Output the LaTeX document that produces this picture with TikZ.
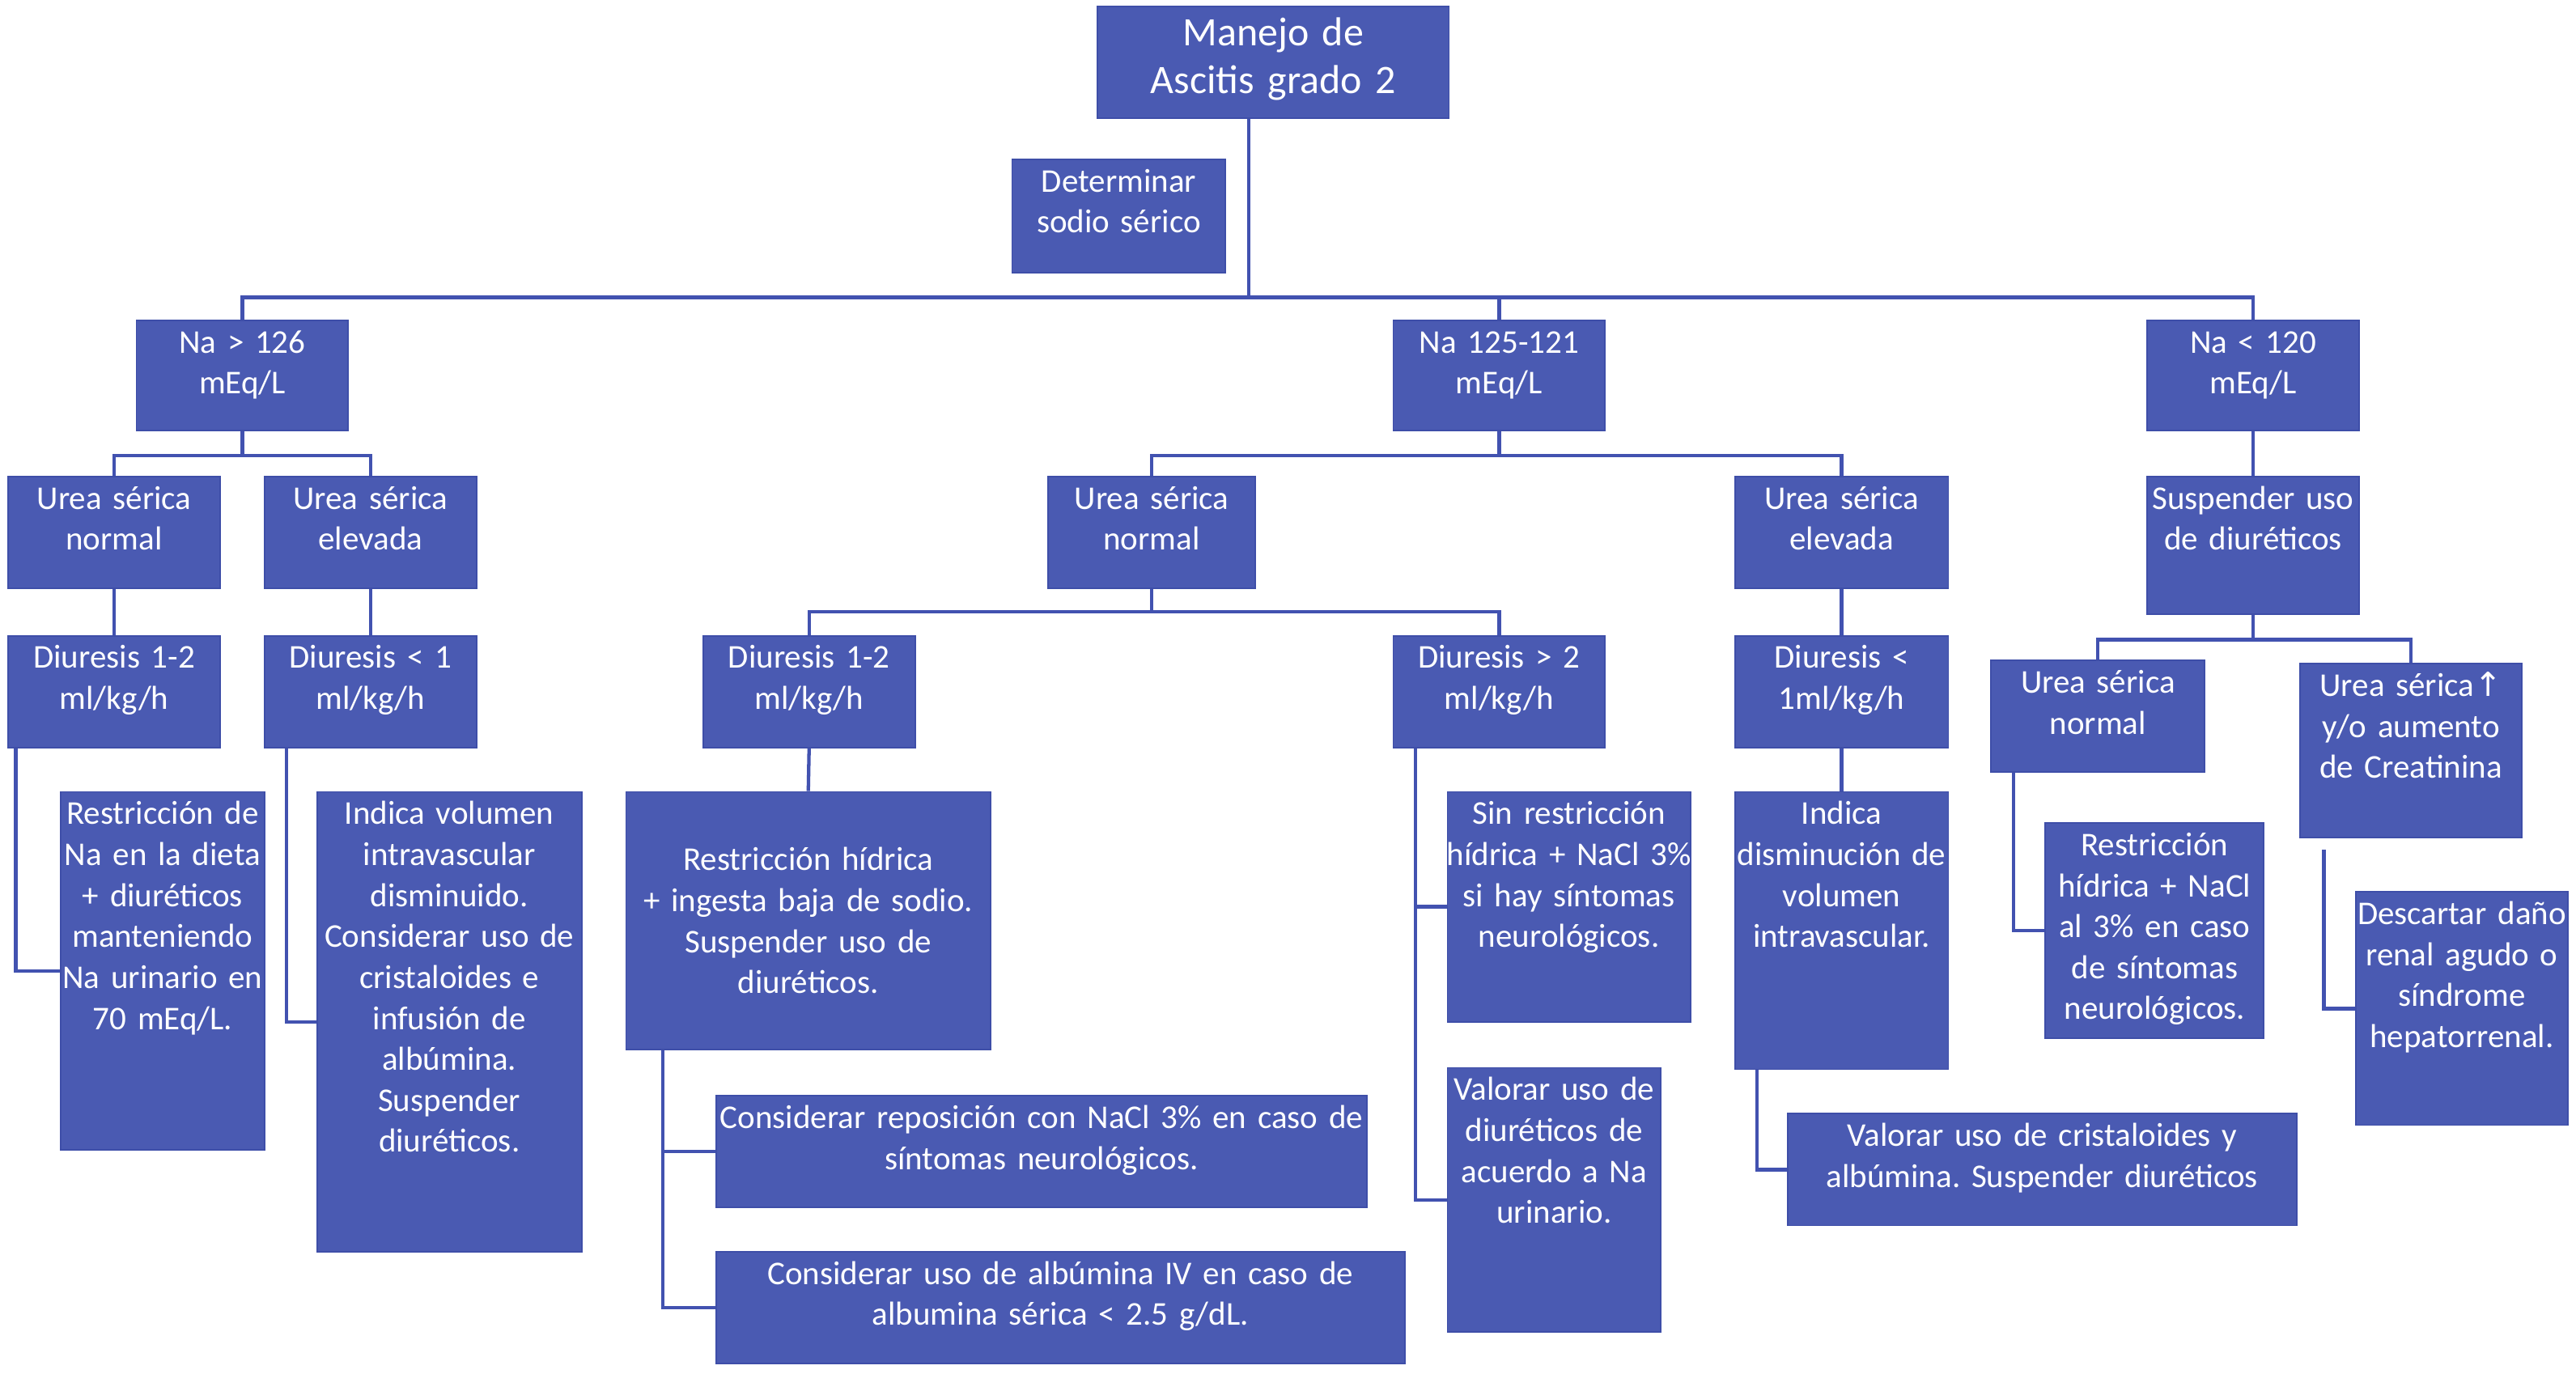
\documentclass[tikz,border=0pt]{standalone}
\usepackage{fontspec}
\setmainfont{Carlito}
\newfontfamily\symfont{DejaVu Sans}
\usetikzlibrary{fit}
\frenchspacing
\definecolor{boxfill}{RGB}{74,90,178}
\definecolor{boxedge}{RGB}{62,78,168}
\definecolor{linec}{RGB}{66,82,176}
\newcommand\bfs{\fontsize{11.5}{14.2}\selectfont}
\newcommand\tfs{\fontsize{14}{16.5}\selectfont}
% box: name, x1, y1, x2, y2, text (top aligned)
\newcommand\bx[6]{%
  \node[box, fit={(#2,#3) (#4,#5)}] (#1) {};
  \pgfmathsetmacro\tw{(#4-#2)*0.02+1}%
  \node[txt, text width=\tw cm, anchor=north] (#1-t) at ([yshift=-0.05cm]#1.north) {\strut #6};
}
% box with vertically centred text
\newcommand\bxc[6]{%
  \node[box, fit={(#2,#3) (#4,#5)}] (#1) {};
  \pgfmathsetmacro\tw{(#4-#2)*0.02+1}%
  \node[txt, text width=\tw cm, anchor=center] (#1-t) at (#1.center) {#6};
}
\begin{document}
\begin{tikzpicture}[x=0.02cm,y=-0.02cm,
  box/.style={fill=boxfill, draw=boxedge, line width=0.5pt, inner sep=0pt},
  txt/.style={text=white, align=center, inner sep=0pt, font=\bfs},
  conn/.style={draw=linec, line width=1.2pt}]
\useasboundingbox (0,0) rectangle (1568,836);

% title
\node[box, fit={(668,4) (882,72)}] (title) {};
\node[txt, font=\tfs, text width=5.3cm, anchor=north] (title-t) at ([yshift=-0.07cm]title.north) {\strut Manejo de\\Ascitis grado 2};

\bx{det}{616}{97}{746}{166}{Determinar\\sodio sérico}
\bx{na1}{83}{195}{212}{262}{Na > 126\\mEq/L}
\bx{na2}{848}{195}{977}{262}{Na 125-121\\mEq/L}
\bx{na3}{1307}{195}{1436}{262}{Na < 120\\mEq/L}

\bx{uL1}{5}{290}{134}{358}{Urea sérica\\normal}
\bx{uL2}{161}{290}{290}{358}{Urea sérica\\elevada}
\bx{dL1}{5}{387}{134}{455}{Diuresis 1-2\\ml/kg/h}
\bx{dL2}{161}{387}{290}{455}{Diuresis < 1\\ml/kg/h}
\bx{resNa}{37}{482}{161}{700}{Restricción de\\Na en la dieta\\+ diuréticos\\manteniendo\\Na urinario en\\70 mEq/L.}
\bx{indVol}{193}{482}{354}{762}{Indica volumen\\intravascular\\disminuido.\\Considerar uso de\\cristaloides e\\infusión de\\albúmina.\\Suspender\\diuréticos.}

\bx{uM1}{638}{290}{764}{358}{Urea sérica\\normal}
\bx{uM2}{1056}{290}{1186}{358}{Urea sérica\\elevada}
\bx{dM1}{428}{387}{557}{455}{Diuresis 1-2\\ml/kg/h}
\bx{dM2}{848}{387}{977}{455}{Diuresis > 2\\ml/kg/h}
\bx{dM3}{1056}{387}{1186}{455}{Diuresis <\\1ml/kg/h}
\bxc{resHid}{381}{482}{603}{639}{Restricción hídrica\\+ ingesta baja de sodio.\\Suspender uso de\\diuréticos.}
\bx{consRep}{436}{667}{832}{735}{Considerar reposición con NaCl 3\% en caso de\\síntomas neurológicos.}
\bx{consAlb}{436}{762}{855}{830}{Considerar uso de albúmina IV en caso de\\albumina sérica < 2.5 g/dL.}
\bx{sinRes}{881}{482}{1029}{622}{Sin restricción\\hídrica + NaCl 3\%\\si hay síntomas\\neurológicos.}
\bx{valDiu}{881}{650}{1011}{811}{Valorar uso de\\diuréticos de\\acuerdo a Na\\urinario.}
\bx{indDis}{1056}{482}{1186}{651}{Indica\\disminución de\\volumen\\intravascular.}
\bx{valCri}{1088}{678}{1398}{746}{Valorar uso de cristaloides y\\albúmina. Suspender diuréticos}

\bx{susp}{1307}{290}{1436}{374}{Suspender uso\\de diuréticos}
\bx{uR1}{1212}{402}{1342}{470}{Urea sérica\\normal}
\bx{uR2}{1400}{404}{1535}{510}{Urea sérica{\symfont ↑}\\y/o aumento\\de Creatinina}
\bx{resR}{1245}{501}{1378}{632}{Restricción\\hídrica + NaCl\\al 3\% en caso\\de síntomas\\neurológicos.}
\bx{desc}{1434}{543}{1563}{685}{Descartar daño\\renal agudo o\\síndrome\\hepatorrenal.}

% connectors
\coordinate (j0) at (760,181);
\draw[conn] (title.south -| j0) -- (j0);
\draw[conn] (na1.north) |- (j0) -| (na3.north);
\draw[conn] (na2.north) -- (na2.north |- j0);

\coordinate (j1) at ([yshift=-0.3cm]na1.south);
\draw[conn] (na1.south) -- (j1);
\draw[conn] (uL1.north) |- (j1) -| (uL2.north);
\draw[conn] (uL1.south) -- (dL1.north);
\draw[conn] (uL2.south) -- (dL2.north);
\draw[conn] ([xshift=0.1cm]dL1.south west) |- (resNa.west);
\draw[conn] ([xshift=0.28cm]dL2.south west) |- (indVol.west);

\coordinate (j2) at ([yshift=-0.3cm]na2.south);
\draw[conn] (na2.south) -- (j2);
\draw[conn] (uM1.north) |- (j2) -| (uM2.north);
\coordinate (j3) at ([yshift=-0.28cm]uM1.south);
\draw[conn] (uM1.south) -- (j3);
\draw[conn] (dM1.north) |- (j3) -| (dM2.north);
\draw[conn] (dM1.south) -- (resHid.north);
\coordinate (t1) at ([xshift=0.46cm]resHid.south west);
\draw[conn] (t1) |- (consAlb.west);
\draw[conn] (consRep.west) -- (consRep.west -| t1);
\coordinate (t2) at ([xshift=0.28cm]dM2.south west);
\draw[conn] (t2) |- (valDiu.west);
\draw[conn] (sinRes.west) -- (sinRes.west -| t2);
\draw[conn] (uM2.south) -- (dM3.north);
\draw[conn] (dM3.south) -- (indDis.north);
\draw[conn] ([xshift=0.28cm]indDis.south west) |- (valCri.west);

\draw[conn] (na3.south) -- (susp.north);
\coordinate (j4) at ([yshift=-0.3cm]susp.south);
\draw[conn] (susp.south) -- (j4);
\draw[conn] (uR1.north) |- (j4) -| (uR2.north);
\draw[conn] ([xshift=0.28cm]uR1.south west) |- (resR.west);
\draw[conn] ([xshift=0.3cm,yshift=-0.14cm]uR2.south west) |- (desc.west);
\end{tikzpicture}
\end{document}
